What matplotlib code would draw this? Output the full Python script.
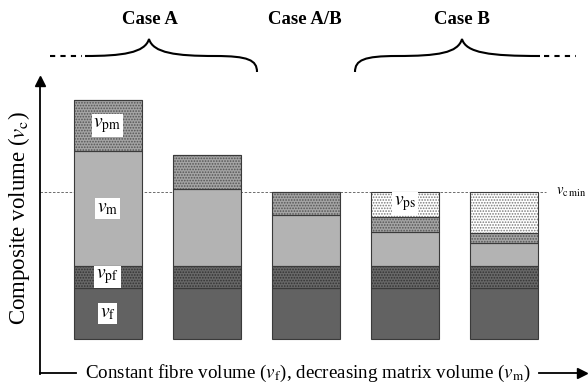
import matplotlib
matplotlib.use("Agg")
import matplotlib.pyplot as plt
import numpy as np
from matplotlib.path import Path
from matplotlib.patches import PathPatch

plt.rcParams['font.family'] = ['Liberation Serif', 'DejaVu Serif']
plt.rcParams['mathtext.fontset'] = 'stix'
plt.rcParams['hatch.linewidth'] = 0.8

# stacked volume parts, bottom to top
cases = ['1', '2', '3', '4', '5']
v_f = [51, 51, 51, 51, 51]
v_pf = [22, 22, 22, 22, 22]
v_m = [115, 77, 51, 34, 23]
v_pm = [51, 34, 23, 15, 10]
v_ps = [0, 0, 0, 25, 41]
vc_min = 147

parts = [
    (v_f, '#626262', None, None),
    (v_pf, '#686868', '#333333', '......'),
    (v_m, '#b3b3b3', None, None),
    (v_pm, '#a4a4a4', '#555555', '......'),
    (v_ps, '#ffffff', '#7a7a7a', '......'),
]

fig = plt.figure(figsize=(5.88, 3.87), dpi=100)
ax = fig.add_axes([0, 0, 1, 1])
x = np.arange(len(cases))
w = 0.686

ax.axhline(vc_min, xmin=40 / 588, xmax=546 / 588, color='#555555',
           lw=0.6, ls=(0, (3, 2)), zorder=1)

bottom = np.zeros(len(cases))
for vals, fc, dc, hatch in parts:
    vals = np.array(vals, dtype=float)
    if hatch:
        ax.bar(x, vals, w, bottom=bottom, color=fc, edgecolor=dc,
               hatch=hatch, lw=0, zorder=2)
    else:
        ax.bar(x, vals, w, bottom=bottom, color=fc, lw=0, zorder=2)
    ax.bar(x, vals, w, bottom=bottom, fill=False, edgecolor='#3a3a3a',
           lw=0.8, zorder=3)
    bottom += vals

ax.set_xlim(-1.085, 4.849)
ax.set_ylim(-48, 339)
ax.axis('off')

# part labels
box = dict(facecolor='white', edgecolor='none', pad=1.2)
lab_kw = dict(ha='center', va='center', fontsize=14, bbox=box, zorder=5)
ax.text(0, v_f[0] / 2, r'$v_{\mathrm{f}}$', **lab_kw)
ax.text(0, v_f[0] + v_pf[0] / 2, r'$v_{\mathrm{pf}}$', **lab_kw)
ax.text(0, v_f[0] + v_pf[0] + v_m[0] / 2, r'$v_{\mathrm{m}}$', **lab_kw)
ax.text(0, v_f[0] + v_pf[0] + v_m[0] + v_pm[0] / 2, r'$v_{\mathrm{pm}}$', **lab_kw)
ax.text(3, vc_min - v_ps[3] / 2 + 1, r'$v_{\mathrm{ps}}$', **lab_kw)
ax.text(4.53, vc_min, r'$v_{\mathrm{c\,min}}$', ha='left', va='center', fontsize=10.5)

# x axis arrow shaft after the label, in figure fraction coords
fig.add_artist(plt.Line2D([539 / 588, 580 / 588], [14 / 387, 14 / 387],
                          transform=fig.transFigure, color='black', lw=1.3))

# overlay in pixel coords for axes arrows, braces and titles
ov = fig.add_axes([0, 0, 1, 1])
ov.set_xlim(0, 588)
ov.set_ylim(387, 0)
ov.axis('off')
ov.patch.set_alpha(0)

# y axis arrow
ov.plot([40, 40], [374, 84], color='black', lw=1.3)
ov.plot(40, 81, marker='^', ms=7, color='black', clip_on=False)
# x axis: corner piece and arrow head
ov.plot([40, 76], [373, 373], color='black', lw=1.3)
ov.plot(582, 373, marker='>', ms=7, color='black', clip_on=False)

ov.text(308, 373, r'Constant fibre volume ($v_{\mathrm{f}}$), decreasing matrix volume ($v_{\mathrm{m}}$)',
        ha='center', va='center', fontsize=13.7)
ov.text(19, 218, r'Composite volume ($v_{\mathrm{c}}$)', ha='center', va='center',
        rotation=90, fontsize=16.5)

for label, xc in [('Case A', 150), ('Case A/B', 305), ('Case B', 462)]:
    ov.text(xc, 20, label, ha='center', va='center', fontsize=13.5,
            fontweight='bold')

C = Path.CURVE4
brace_a = Path([(85, 56), (122, 56), (145, 53), (149, 39),
                (153, 53), (176, 56), (215, 56),
                (248, 56), (257, 60), (257, 72)],
               [Path.MOVETO, C, C, C, C, C, C, C, C, C])
brace_b = Path([(355, 72), (355, 60), (364, 56), (397, 56),
                (438, 56), (458, 53), (462, 39),
                (466, 53), (490, 56), (540, 56)],
               [Path.MOVETO, C, C, C, C, C, C, C, C, C])
for p in (brace_a, brace_b):
    ov.add_patch(PathPatch(p, fill=False, lw=1.5, color='black'))
ov.plot([50, 82], [56, 56], color='black', lw=1.5, ls=(0, (2.5, 2.5)))
ov.plot([544, 576], [56, 56], color='black', lw=1.5, ls=(0, (2.5, 2.5)))

fig.savefig('out.png', dpi=100)
